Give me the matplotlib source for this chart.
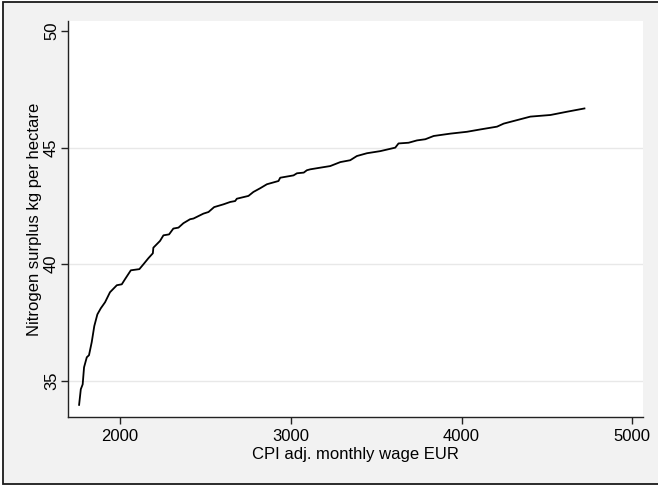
import matplotlib
matplotlib.use("Agg")
import matplotlib.pyplot as plt
from matplotlib.patches import Rectangle

plt.rcParams['font.family'] = ['Liberation Sans', 'DejaVu Sans']

wage = [1760, 1770, 1781, 1789, 1805, 1818, 1834, 1849, 1867, 1887, 1912, 1941,
        1981, 2010, 2029, 2063, 2113, 2137, 2166, 2192, 2195, 2234, 2254, 2287,
        2312, 2342, 2371, 2410, 2430, 2488, 2518, 2551, 2606, 2645, 2674, 2684,
        2752, 2781, 2821, 2860, 2928, 2938, 3016, 3036, 3076, 3094, 3114, 3172,
        3231, 3290, 3348, 3387, 3446, 3524, 3612, 3631, 3690, 3739, 3788, 3837,
        3934, 4032, 4110, 4208, 4247, 4403, 4521, 4618, 4720]
surplus = [33.97, 34.64, 34.85, 35.58, 36.01, 36.10, 36.66, 37.35, 37.85, 38.11,
           38.37, 38.80, 39.10, 39.14, 39.36, 39.74, 39.79, 40.00, 40.26, 40.47,
           40.71, 41.00, 41.24, 41.28, 41.53, 41.57, 41.76, 41.93, 41.96, 42.17,
           42.24, 42.45, 42.57, 42.67, 42.71, 42.81, 42.93, 43.10, 43.26, 43.43,
           43.57, 43.71, 43.81, 43.90, 43.93, 44.03, 44.07, 44.14, 44.21, 44.38,
           44.46, 44.64, 44.76, 44.85, 45.00, 45.18, 45.21, 45.31, 45.36, 45.50,
           45.60, 45.68, 45.78, 45.90, 46.03, 46.33, 46.40, 46.54, 46.68]
xticks = [2000, 3000, 4000, 5000]
yticks = [35, 40, 45, 50]

fig = plt.figure(figsize=(6.58, 4.86), dpi=100)
fig.patch.set_facecolor('white')
fig.patches.append(Rectangle((2.5/658, 2.5/486), 1.2, 1 - 5/486,
                             transform=fig.transFigure, facecolor='#f2f2f2',
                             edgecolor='#1a1a1a', linewidth=1.3, zorder=-10))

ax = fig.add_axes([68/658, 69/486, 575/658, 396/486])
ax.set_facecolor('white')
ax.plot(wage, surplus, color='black', linewidth=1.3)

ax.set_xlim(1695, 5063)
ax.set_ylim(33.45, 50.43)
ax.set_xticks(xticks)
ax.set_yticks(yticks)
ax.set_yticklabels([str(t) for t in yticks], rotation=90, va='center')
for t in [35, 40, 45]:
    ax.axhline(t, color='#e8e8e8', linewidth=1.0, zorder=0)

for s in ['top', 'right']:
    ax.spines[s].set_visible(False)
for s in ['left', 'bottom']:
    ax.spines[s].set_color('#222222')
    ax.spines[s].set_linewidth(1.0)
ax.tick_params(axis='both', direction='out', length=5, width=1.0,
               color='#222222', labelsize=12)
ax.tick_params(axis='x', pad=3.5)
ax.tick_params(axis='y', pad=1.5)

ax.set_xlabel('CPI adj. monthly wage EUR', fontsize=12, labelpad=2)
ax.set_ylabel('Nitrogen surplus kg per hectare', fontsize=12, labelpad=1.5)

fig.savefig('out.png', dpi=100, facecolor=fig.get_facecolor())
